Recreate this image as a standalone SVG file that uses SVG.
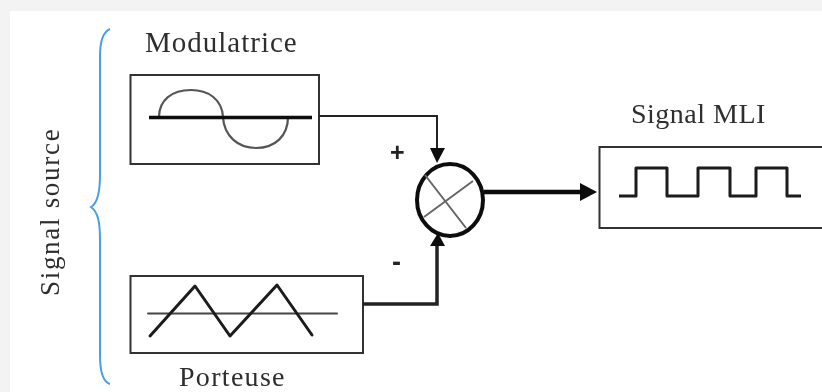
<svg xmlns="http://www.w3.org/2000/svg" width="822" height="392" viewBox="0 0 822 392">
<style>
.t{font-family:"Liberation Serif","Times New Roman",serif;fill:#2e2e2e}
.b{fill:none;stroke:#333;stroke-width:2}
.thin{fill:none;stroke:#444;stroke-width:2;stroke-linecap:round}
.g{fill:none;stroke:#555;stroke-width:2.2}
.k{fill:none;stroke:#1a1a1a;stroke-width:3;stroke-linejoin:round}
.a{fill:#111}
.s{font-family:"Liberation Sans",Arial,sans-serif;font-weight:bold;fill:#222}
</style>
<defs><filter id="blur" x="-5%" y="-5%" width="110%" height="110%"><feGaussianBlur stdDeviation="0.6"/></filter></defs>
<rect width="822" height="392" fill="#f3f3f3"/>
<rect x="10" y="11" width="812" height="381" fill="#fff"/>
<g filter="url(#blur)">
<g id="brace"><path d="M110 29C103 32 100 42 100 56V175C100 192 98 203 91 207C98 212 100 222 100 240V355C100 372 103 382 110 384" fill="none" stroke="#4a9fe0" stroke-width="2"/></g>
<g id="source-label"><text class="t" transform="translate(59 296) rotate(-90)" style="font-size:27px;letter-spacing:1.7px">Signal source</text></g>
<g id="modulatrice">
<text class="t" x="145" y="51.500" style="font-size:29px;letter-spacing:1px">Modulatrice</text>
<rect class="b" x="130.500" y="75" width="188.500" height="89"/>
<path class="g" d="M159 117C159 100 172 90 191 90C208 90 222 99 223 117C224 136 238 148 256 148C275 148 288 136 288 117"/>
<path d="M149 117.500H312" stroke="#111" stroke-width="3.500" fill="none"/>
</g>
<g id="porteuse">
<rect class="b" x="130.500" y="276" width="232.500" height="77"/>
<path class="thin" d="M148 313.500H337"/>
<path class="k" d="M150 336L195 286L230 336L277 285L312 335" stroke-linecap="round"/>
<text class="t" x="179" y="385.500" style="font-size:28px;letter-spacing:1.300px">Porteuse</text>
</g>
<g id="mixer">
<ellipse cx="450" cy="200" rx="33" ry="36" fill="#fff" stroke="#111" stroke-width="4"/>
<path d="M425 175L466 228M424 217L473 181" stroke="#666" stroke-width="2" fill="none"/>
</g>
<g id="signal-mli">
<text class="t" x="631" y="123" style="font-size:28px;letter-spacing:.5px">Signal MLI</text>
<path class="b" d="M822 147H599.500V228H822"/>
<path class="k" d="M619 196H636V168H667V196H698V168H730V196H756V168H787V196H801"/>
</g>
<g id="connectors">
<path d="M319 116H437V150" fill="none" stroke="#222" stroke-width="2"/>
<polygon class="a" points="430,148 445,148 437,163"/>
<path d="M363 304H437V245" fill="none" stroke="#222" stroke-width="3.500"/>
<polygon class="a" points="430,246 438,233 445,246"/>
<path d="M484 192H584" fill="none" stroke="#111" stroke-width="4.500"/>
<polygon class="a" points="580,183 597,192 580,201"/>
</g>
<g id="signs">
<text class="s" x="390" y="161" style="font-size:25px">+</text>
<text class="s" x="392" y="271" style="font-size:27px">-</text>
</g>
</g>
</svg>
